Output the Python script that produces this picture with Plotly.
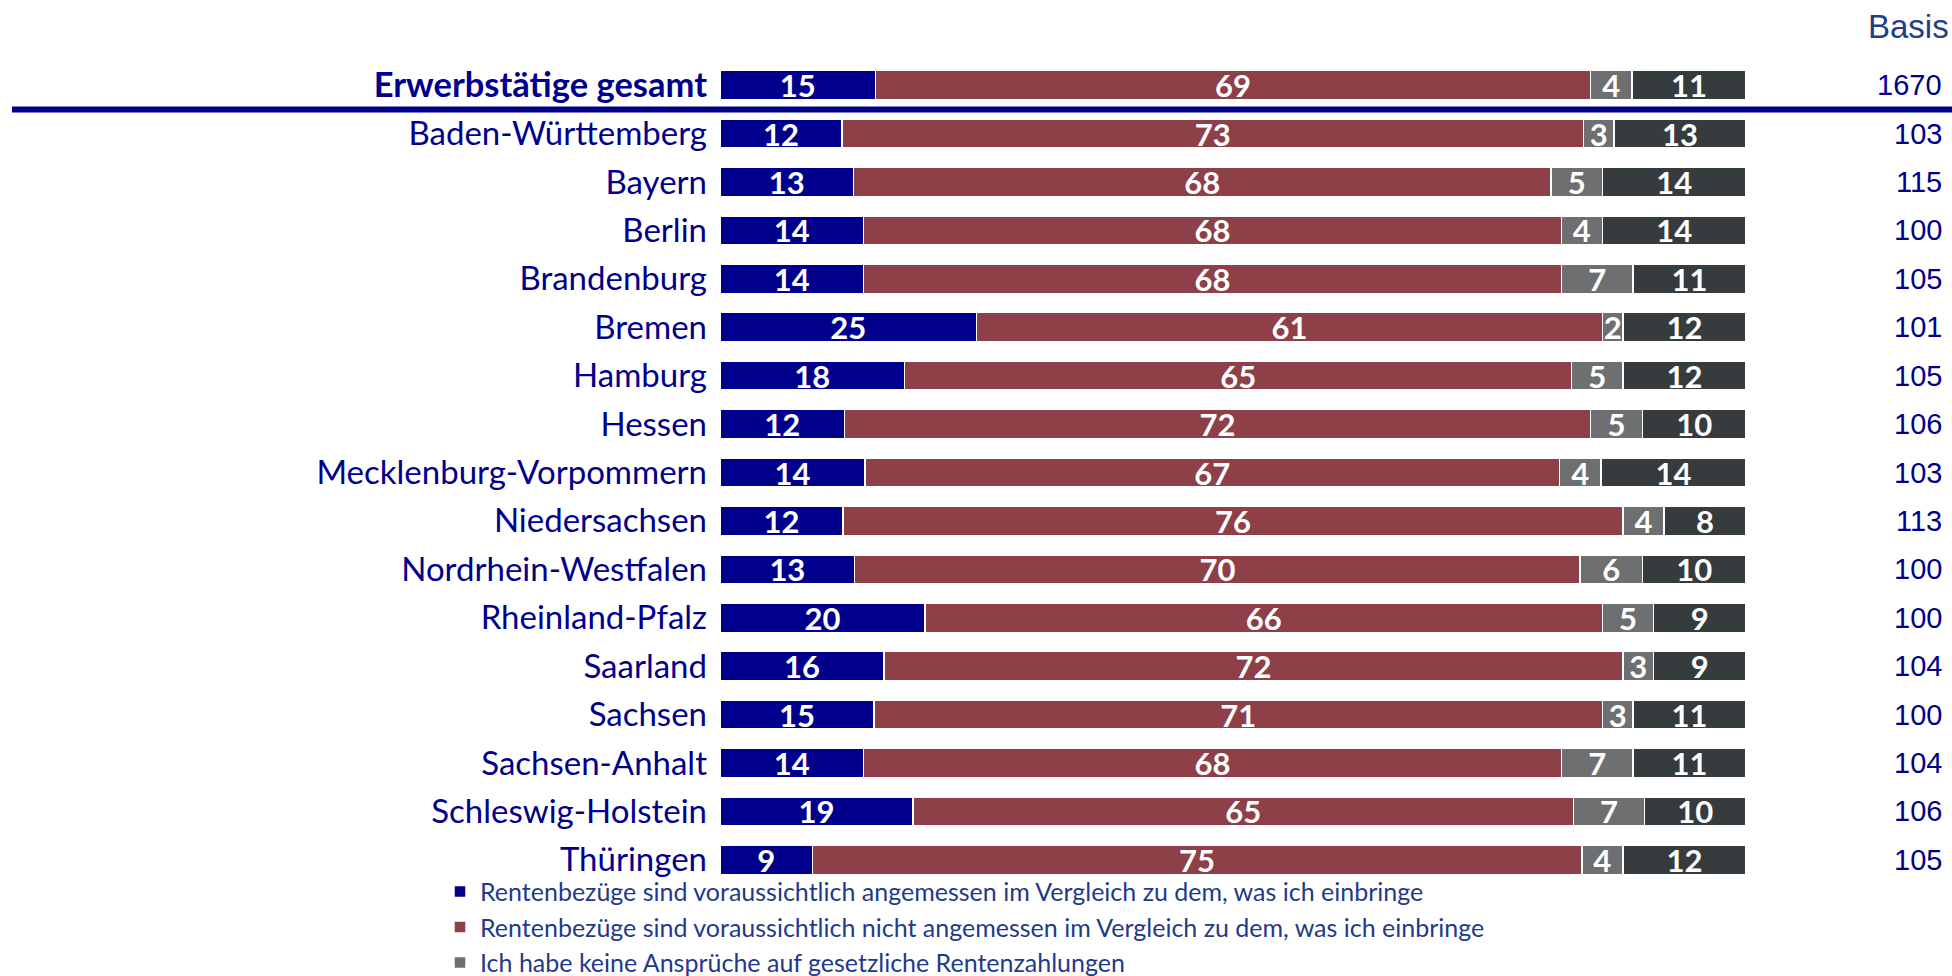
import plotly.graph_objects as go

categories = ["Erwerbstätige gesamt", "Baden-Württemberg", "Bayern", "Berlin", "Brandenburg",
              "Bremen", "Hamburg", "Hessen", "Mecklenburg-Vorpommern", "Niedersachsen",
              "Nordrhein-Westfalen", "Rheinland-Pfalz", "Saarland", "Sachsen", "Sachsen-Anhalt",
              "Schleswig-Holstein", "Thüringen"]
angemessen = [15, 12, 13, 14, 14, 25, 18, 12, 14, 12, 13, 20, 16, 15, 14, 19, 9]
nicht_angemessen = [69, 73, 68, 68, 68, 61, 65, 72, 67, 76, 70, 66, 72, 71, 68, 65, 75]
keine_ansprueche = [4, 3, 5, 4, 7, 2, 5, 5, 4, 4, 6, 5, 3, 3, 7, 7, 4]
weiss_nicht = [11, 13, 14, 14, 11, 12, 12, 10, 14, 8, 10, 9, 9, 11, 11, 10, 12]
basis = [1670, 103, 115, 100, 105, 101, 105, 106, 103, 113, 100, 100, 104, 100, 104, 106, 105]

series_names = [
    "Rentenbezüge sind voraussichtlich angemessen im Vergleich zu dem, was ich einbringe",
    "Rentenbezüge sind voraussichtlich nicht angemessen im Vergleich zu dem, was ich einbringe",
    "Ich habe keine Ansprüche auf gesetzliche Rentenzahlungen",
    "Weiß nicht / keine Angabe",
]
series_values = [angemessen, nicht_angemessen, keine_ansprueche, weiss_nicht]
colors = ["#00008C", "#8E4048", "#6E6F70", "#363C3E"]

LABEL_FONT = "Lato"
NAVY = "#00008C"

fig = go.Figure()
for i, (name, vals, col, show) in enumerate(zip(series_names, series_values, colors, [True, True, True, False])):
    fig.add_trace(go.Bar(
        y=categories, x=vals, name=name, orientation="h",
        marker=dict(color=col, line=dict(color="white", width=1.5)),
        text=[str(v) for v in vals], texttemplate="%{text}",
        textposition="inside", insidetextanchor="middle", constraintext="none", textangle=0,
        textfont=dict(family=LABEL_FONT, size=31, color="white", weight="bold"),
        showlegend=show, hoverinfo="skip", legendgroup="g%d" % i,
    ))

ticktext = ["<b><span style='font-size:34.5px'>" + categories[0] + "</span></b>"] + categories[1:]

W, H = 1952, 976
left, right = 720, 1746
top, bottom = 61, 884
pw = right - left

annotations = []
for c, b in zip(categories, basis):
    annotations.append(dict(x=(1944 - left) / pw, xref="paper", y=c, yref="y", text=str(b),
                            showarrow=False, xanchor="right", yanchor="middle",
                            font=dict(family="Liberation Sans", size=29, color=NAVY)))
annotations.append(dict(x=(1951 - left) / pw, xref="paper", y=(top - 26) / (bottom - top) + 1.0,
                        yref="paper", text="Basis", showarrow=False, xanchor="right", yanchor="middle",
                        font=dict(family="Liberation Sans", size=33, color="#1F3D8A")))

fig.update_layout(
    width=W, height=H,
    barmode="stack", barnorm="percent", bargap=0.4,
    margin=dict(l=left, r=W - right, t=top, b=H - bottom, pad=0, autoexpand=False),
    plot_bgcolor="white", paper_bgcolor="white",
    xaxis=dict(range=[0, 100], visible=False, fixedrange=True),
    yaxis=dict(categoryorder="array", categoryarray=categories, autorange="reversed",
               tickmode="array", tickvals=categories, ticktext=ticktext,
               ticks="", showgrid=False, zeroline=False, showline=False,
               ticklabelstandoff=12, automargin=False,
               tickfont=dict(family=LABEL_FONT, size=33, color=NAVY)),
    legend=dict(orientation="v", x=(440 - left) / pw, xanchor="left", y=0.0185, yanchor="top",
                font=dict(family=LABEL_FONT, size=25, color="#1F3A8A"),
                bgcolor="rgba(0,0,0,0)", traceorder="normal", itemwidth=30, tracegroupgap=2),
    annotations=annotations,
    shapes=[dict(type="line", xref="paper", yref="y", x0=(12 - left) / pw, x1=(W - left) / pw,
                 y0=0.5, y1=0.5, line=dict(color=NAVY, width=6))],
    showlegend=True,
)

fig.write_html("out.html", config={"displayModeBar": False},
               post_script="document.body.style.margin='0';document.body.style.overflow='hidden';")
